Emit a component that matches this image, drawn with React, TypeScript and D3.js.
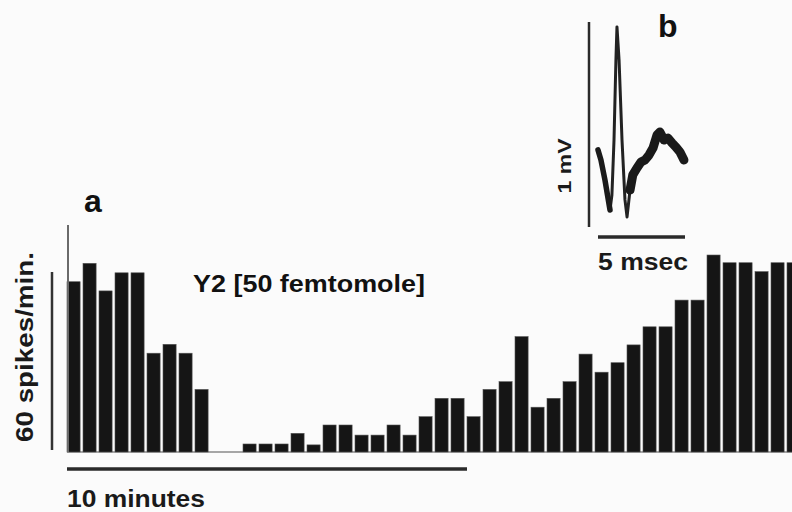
import React from "react";
import * as d3 from "d3";

// Spike rate per bin (spikes/min), one bar per bin
const bins: number[] = Array.from({ length: 46 }, (_, i) => i);
const spikeRates: number[] = [
  57.4, 63.6, 54.3, 60.4, 60.4, 33.3, 36.3, 33.3, 21.1, 0,
  0, 2.7, 2.7, 2.7, 6.3, 2.4, 9.1, 9.1, 5.7, 5.7,
  9.1, 5.7, 11.9, 18.1, 18.1, 11.9, 21.1, 23.7, 38.9, 15.1,
  18.1, 23.7, 33.0, 26.9, 30.1, 36.1, 42.2, 42.2, 51.2, 51.2,
  66.4, 63.8, 63.8, 60.8, 63.8, 63.8,
];

// Inset spike waveform: time (msec) and voltage (mV, relative to scale-bar bottom)
const waveTime: number[] = [
  0, 0.17, 0.4, 0.69, 0.8, 0.92, 1.03, 1.09, 1.21, 1.38, 1.55, 1.67, 1.84, 2.0,
  2.24, 2.47, 2.7, 2.93, 3.16, 3.39, 3.56, 3.8, 4.02, 4.25, 4.48, 4.71, 4.94,
];
const waveVolt: number[] = [
  0.376, 0.327, 0.229, 0.083, 0.156, 0.424, 0.815, 0.976, 0.815, 0.424, 0.132,
  0.049, 0.18, 0.254, 0.288, 0.317, 0.327, 0.351, 0.385, 0.449, 0.463, 0.424,
  0.434, 0.41, 0.39, 0.366, 0.327,
];

const labelA = "a";
const labelB = "b";
const treatmentLabel = "Y2 [50 femtomole]";
const rateScaleLabel = "60 spikes/min.";
const timeScaleLabel = "10 minutes";
const voltScaleLabel = "1 mV";
const msecScaleLabel = "5 msec";

export default function App() {
  const W = 792;
  const H = 512;
  const x = d3.scaleLinear().domain([0, 46]).range([67, 803]);
  const step = x(1) - x(0);
  const bw = step * 0.82;
  const y = d3.scaleLinear().domain([0, 60]).range([452, 274]);

  const tx = d3.scaleLinear().domain([0, 5]).range([598, 685]);
  const ty = d3.scaleLinear().domain([0, 1]).range([227, 22]);
  const pts: [number, number][] = waveTime.map((t, i) => [t, waveVolt[i]]);
  const line = d3
    .line<[number, number]>()
    .x((d) => tx(d[0]))
    .y((d) => ty(d[1]))
    .curve(d3.curveLinear);
  const tail = pts.filter((d) => d[0] >= 1.84);
  const head = pts.filter((d) => d[0] <= 0.69);

  const ink = "#151515";
  const font = "Liberation Sans, Arial, sans-serif";

  return (
    <svg
      width={W}
      height={H}
      style={{ position: "absolute", left: 0, top: 0, background: "#fbfbfb" }}
    >
      <rect x={0} y={0} width={W} height={H} fill="#fbfbfb" />
      {/* baseline */}
      <line x1={x(0)} x2={W} y1={y(0)} y2={y(0)} stroke="#8a8a8a" strokeWidth={1.5} />
      {/* bars */}
      {bins.map((b, i) => (
        <rect
          key={b}
          x={x(b)}
          y={y(spikeRates[i])}
          width={bw}
          height={y(0) - y(spikeRates[i])}
          fill={ink}
          stroke="#555"
          strokeWidth={0.6}
        />
      ))}
      {/* y axis line */}
      <line x1={x(0) + 1} x2={x(0) + 1} y1={225} y2={y(0)} stroke="#6a6a6a" strokeWidth={2} />
      {/* 60 spikes/min scale bar */}
      <line x1={52} x2={52} y1={y(60) - 2} y2={y(0) - 2} stroke="#333" strokeWidth={2.5} />
      <text
        transform={`translate(33,347) rotate(-90)`}
        textAnchor="middle"
        fontFamily={font}
        fontSize={24}
        fontWeight="bold"
        fill="#1a1a1a"
        textLength={190}
        lengthAdjust="spacingAndGlyphs"
      >
        {rateScaleLabel}
      </text>
      {/* 10 minutes scale bar */}
      <line x1={x(0)} x2={x(25)} y1={469} y2={469} stroke="#2a2a2a" strokeWidth={3.5} />
      <text
        x={67}
        y={507}
        fontFamily={font}
        fontSize={23}
        fontWeight="bold"
        fill="#1a1a1a"
        textLength={138}
        lengthAdjust="spacingAndGlyphs"
      >
        {timeScaleLabel}
      </text>
      <text x={84} y={212} fontFamily={font} fontSize={32} fontWeight="bold" fill="#111">
        {labelA}
      </text>
      <text
        x={193}
        y={292}
        fontFamily={font}
        fontSize={24}
        fontWeight="bold"
        fill="#111"
        textLength={232}
        lengthAdjust="spacingAndGlyphs"
      >
        {treatmentLabel}
      </text>

      {/* inset b */}
      <line x1={589} x2={589} y1={ty(1)} y2={ty(0)} stroke="#2a2a2a" strokeWidth={2.5} />
      <line x1={tx(0)} x2={tx(5)} y1={237} y2={237} stroke="#2a2a2a" strokeWidth={3.5} />
      <path d={line(pts) || ""} fill="none" stroke="#222" strokeWidth={3} strokeLinejoin="round" />
      <path d={line(tail) || ""} fill="none" stroke="#1a1a1a" strokeWidth={9} strokeLinejoin="round" strokeLinecap="round" />
      <path d={line(head) || ""} fill="none" stroke="#1a1a1a" strokeWidth={5.5} strokeLinejoin="round" strokeLinecap="round" />
      <text
        transform={`translate(571,166) rotate(-90)`}
        textAnchor="middle"
        fontFamily={font}
        fontSize={19}
        fontWeight="bold"
        fill="#1a1a1a"
        textLength={55}
        lengthAdjust="spacingAndGlyphs"
      >
        {voltScaleLabel}
      </text>
      <text
        x={598}
        y={270}
        fontFamily={font}
        fontSize={23}
        fontWeight="bold"
        fill="#1a1a1a"
        textLength={90}
        lengthAdjust="spacingAndGlyphs"
      >
        {msecScaleLabel}
      </text>
      <text x={658} y={37} fontFamily={font} fontSize={32} fontWeight="bold" fill="#111">
        {labelB}
      </text>
    </svg>
  );
}
